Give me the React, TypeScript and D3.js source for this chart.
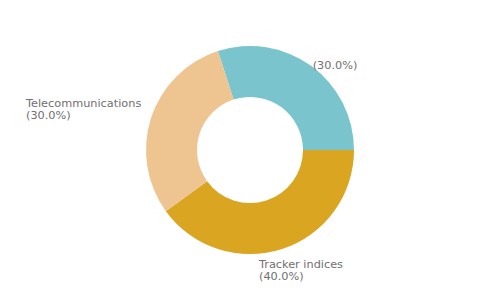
import React, { useEffect, useRef } from "react";
import * as d3 from "d3";

const categories = ["", "Tracker indices", "Telecommunications"];
const values = [30, 40, 30];
const colors = ["#7AC5CD", "#DAA520", "#EEC591"];

const W = 500;
const H = 300;
const CX = 250;
const CY = 150;
const R_OUT = 104;
const R_IN = 53;
const START = -0.1 * Math.PI; // -18deg

export default function App() {
  const ref = useRef<SVGSVGElement | null>(null);

  useEffect(() => {
    document.body.style.margin = "0";
    const svg = d3.select(ref.current);
    svg.selectAll("*").remove();
    const g = svg.append("g").attr("transform", `translate(${CX},${CY})`);

    const total = d3.sum(values);
    const pie = d3
      .pie<number>()
      .sort(null)
      .value((d) => d)
      .startAngle(START)
      .endAngle(START + 2 * Math.PI);
    const arcs = pie(values);
    const arc = d3.arc<d3.PieArcDatum<number>>().innerRadius(R_IN).outerRadius(R_OUT);

    g.selectAll("path.slice")
      .data(arcs)
      .join("path")
      .attr("class", "slice")
      .attr("d", arc as any)
      .attr("fill", (_, i) => colors[i]);

    const labelArc = d3.arc<d3.PieArcDatum<number>>().innerRadius(110).outerRadius(110);
    const fmt = d3.format(".1f");

    arcs.forEach((a, i) => {
      const [px, py] = labelArc.centroid(a);
      const mid = (a.startAngle + a.endAngle) / 2;
      const s = Math.sin(mid);
      const c = -Math.cos(mid);
      const t = g
        .append("text")
        .attr("font-family", "DejaVu Sans, sans-serif")
        .attr("font-size", 11.3)
        .attr("fill", "#707070");
      const lines = [categories[i], `(${fmt((values[i] / total) * 100)}%)`];
      lines.forEach((ln, j) => {
        t.append("tspan").attr("x", 0).attr("dy", j === 0 ? 0 : 12).text(ln);
      });
      const bb = (t.node() as SVGTextElement).getBBox();
      const w = bb.width;
      let x: number;
      let y: number;
      if (s > 0.5) {
        x = px - 2;
        y = py - 4;
      } else if (s < -0.5) {
        x = px - w - 3;
        y = py - 9;
      } else {
        x = px - 25;
        y = py + 13 * (c > 0 ? 1 : -1);
      }
      t.attr("transform", `translate(${x},${y})`);
    });
  }, []);

  return <svg ref={ref} width={W} height={H} style={{ display: "block" }} />;
}
